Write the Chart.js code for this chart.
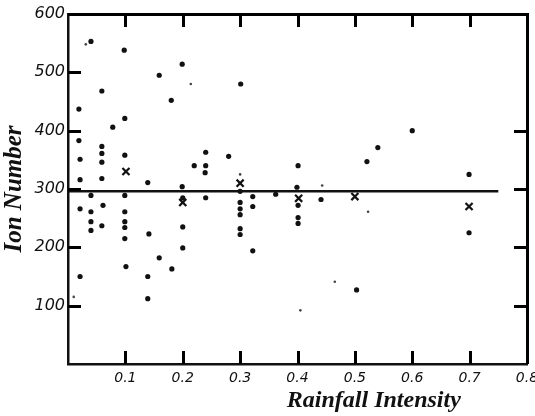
<!DOCTYPE html>
<html>
<head>
<meta charset="utf-8">
<script src="https://cdn.jsdelivr.net/npm/chart.js@4.4.1/dist/chart.umd.min.js"></script>
<style>
  html, body { margin: 0; padding: 0; background: #fff; }
  #wrap { width: 535px; height: 416px; }
</style>
</head>
<body>
<div id="wrap"><canvas id="ionChart"></canvas></div>
<script>
// observed points (rainfall intensity, ion number)
const dotX = [0.040, 0.098, 0.159, 0.059, 0.180, 0.019, 0.099, 0.078, 0.019, 0.059,
              0.059, 0.099, 0.021, 0.059, 0.021, 0.059, 0.139, 0.040, 0.099, 0.021,
              0.061, 0.040, 0.099, 0.040, 0.099, 0.059, 0.099, 0.040, 0.099, 0.141,
              0.159, 0.101, 0.181, 0.021, 0.139, 0.139, 0.199, 0.301, 0.240, 0.280,
              0.220, 0.240, 0.401, 0.239, 0.199, 0.399, 0.300, 0.200, 0.240, 0.322,
              0.362, 0.300, 0.300, 0.300, 0.322, 0.401, 0.401, 0.401, 0.200, 0.300,
              0.300, 0.200, 0.322, 0.540, 0.521, 0.699, 0.441, 0.699, 0.600, 0.503];
const dotY = [553, 538, 495, 468, 452, 437, 421, 406, 383, 373,
              361, 358, 351, 346, 316, 318, 311, 289, 289, 266,
              272, 261, 261, 244, 244, 237, 234, 229, 215, 223,
              182, 167, 163, 150, 150, 112, 514, 480, 363, 356,
              340, 340, 340, 328, 304, 303, 296, 285, 285, 287,
              291, 277, 266, 256, 270, 272, 251, 241, 235, 232,
              222, 199, 194, 371, 347, 325, 282, 225, 400, 127];

// faint small specks
const speckX = [0.031, 0.214, 0.010, 0.300, 0.443, 0.523, 0.405, 0.465];
const speckY = [548, 480, 115, 325, 306, 261, 92, 141];

// mean values (crosses)
const meanX = [0.101, 0.200, 0.300, 0.402, 0.500, 0.699];
const meanY = [330, 277, 310, 284, 287, 270];

// overall mean line
const lineX = [0, 0.75];
const lineY = [296, 296];

const xTicks = ['0.1', '0.2', '0.3', '0.4', '0.5', '0.6', '0.7', '0.8'];
const yTicks = ['100', '200', '300', '400', '500', '600'];

const toPts = (xs, ys) => xs.map((x, i) => ({ x: x, y: ys[i] }));

// inward tick marks + top/right frame + x title
const framePlugin = {
    id: 'frame',
    afterDraw(chart) {
        const c = chart.ctx;
        const a = chart.chartArea;
        const sx = chart.scales.x;
        const sy = chart.scales.y;
        c.save();
        c.fillStyle = '#000';
        // top and right sides of the box
        c.fillRect(a.left, a.top - 1, a.right - a.left, 3);
        c.fillRect(a.right - 1, a.top - 1, 3, a.bottom - a.top + 1);

        for (let i = 0; i < 7; i++) {
            const px = Math.round(sx.getPixelForValue(Number(xTicks[i])));
            c.fillRect(px - 1, Math.round(a.bottom) - 13, 3, 13);
            c.fillRect(px - 1, Math.round(a.top), 3, 13);
        }
        for (let i = 0; i < 5; i++) {
            const v = Number(yTicks[i]);
            const py = Math.round(sy.getPixelForValue(v));
            c.fillRect(Math.round(a.left), py - 1, 13, 3);
            if (v <= 400) c.fillRect(Math.round(a.right) - 13, py - 1, 13, 3);
        }

        // x-axis title, set to the right like the original
        c.fillStyle = '#111';
        c.font = 'italic bold 24px "Liberation Serif"';
        c.textAlign = 'center';
        c.textBaseline = 'middle';
        c.fillText('Rainfall Intensity', sx.getPixelForValue(0.533), a.bottom + 37);
        c.restore();
    }
};

const ctx = document.getElementById('ionChart').getContext('2d');
new Chart(ctx, {
    type: 'scatter',
    data: {
        datasets: [
            {
                label: 'Observations',
                data: toPts(dotX, dotY),
                backgroundColor: '#111',
                borderColor: '#111',
                pointRadius: 2.6,
                pointBorderWidth: 0
            },
            {
                label: 'Specks',
                data: toPts(speckX, speckY),
                backgroundColor: '#444',
                borderColor: '#444',
                pointRadius: 1.3,
                pointBorderWidth: 0
            },
            {
                label: 'Means',
                data: toPts(meanX, meanY),
                pointStyle: 'crossRot',
                borderColor: '#111',
                pointRadius: 5,
                pointBorderWidth: 2.2
            },
            {
                type: 'line',
                label: 'Overall mean',
                data: toPts(lineX, lineY),
                borderColor: '#111',
                borderWidth: 2.5,
                pointRadius: 0,
                fill: false
            }
        ]
    },
    options: {
        responsive: true,
        maintainAspectRatio: false,
        animation: false,
        layout: { padding: { top: 14, right: 8, left: 0, bottom: 0 } },
        plugins: { legend: { display: false }, tooltip: { enabled: false } },
        scales: {
            x: {
                type: 'linear',
                min: 0, max: 0.8,
                grid: { display: false, drawTicks: false },
                border: { display: true, color: '#111', width: 2.5 },
                ticks: {
                    stepSize: 0.1,
                    color: '#111',
                    font: { family: 'DejaVu Sans', size: 14, style: 'italic' },
                    padding: 6,
                    maxRotation: 0,
                    callback: v => {
                        const i = Math.round(v * 10) - 1;
                        return i >= 0 ? xTicks[i] : '';
                    }
                },
                afterFit: s => {
                    s.height = 52;
                    s.paddingLeft = 0;
                    s.paddingRight = 0;
                }
            },
            y: {
                type: 'linear',
                min: 0, max: 600,
                grid: { display: false, drawTicks: false },
                border: { display: true, color: '#111', width: 2.5 },
                ticks: {
                    stepSize: 100,
                    color: '#111',
                    font: { family: 'DejaVu Sans', size: 16, style: 'italic' },
                    padding: 3,
                    callback: v => {
                        const i = Math.round(v / 100) - 1;
                        return i >= 0 ? yTicks[i] : '';
                    }
                },
                title: {
                    display: true,
                    text: 'Ion Number',
                    color: '#111',
                    font: { family: 'Liberation Serif', size: 25, style: 'italic', weight: 'bold' },
                    padding: { top: 0, bottom: 0 }
                },
                afterFit: s => {
                    s.width = 68;
                    s.paddingTop = 0;
                    s.paddingBottom = 0;
                }
            }
        }
    },
    plugins: [framePlugin]
});
</script>
</body>
</html>
